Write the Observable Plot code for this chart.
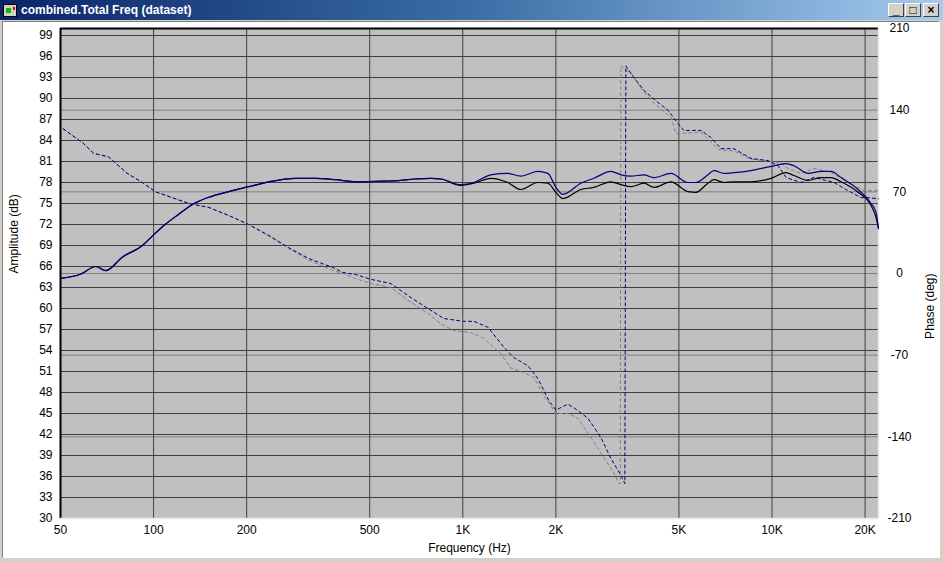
<!DOCTYPE html>
<html>
<head>
<meta charset="utf-8">
<script src="https://cdn.jsdelivr.net/npm/d3@7"></script>
<script src="https://cdn.jsdelivr.net/npm/@observablehq/plot@0.6"></script>
<style>
  body { margin: 0; background: #d4d0c8; }
  #win { position: relative; width: 943px; height: 562px; background: #d4d0c8; overflow: hidden; font-family: "Liberation Sans", Arial, sans-serif; }
  #title { position: absolute; left: 0; top: 0; width: 943px; height: 20px; background: linear-gradient(to right, #0a246a, #3a6ea5 50%, #a6caf0); }
  #title .txt { position: absolute; left: 21px; top: 3px; color: #fff; font-weight: bold; font-size: 12px; font-family: "Liberation Sans", Arial, sans-serif; white-space: nowrap; }
  #icon { position: absolute; left: 3px; top: 4px; width: 12px; height: 11px; background: #d4d0c8; border: 1px solid #000; }
  #icon .g { position: absolute; left: 2px; top: 3px; width: 5px; height: 5px; background: #00c000; }
  #icon .r { position: absolute; left: 9px; top: 2px; width: 2px; height: 3px; background: #e00000; }
  .btn { position: absolute; top: 3px; width: 14px; height: 12px; background: #d4d0c8; border-top: 1px solid #fff; border-left: 1px solid #fff; border-right: 1px solid #404040; border-bottom: 1px solid #404040; font: bold 12px "Liberation Sans", Arial, sans-serif; color: #000; text-align: center; line-height: 12px; }
  #client { position: absolute; left: 2px; top: 21px; width: 936px; height: 535px; background: #fff; border-top: 1px solid #808080; border-left: 1px solid #808080; border-right: 1px solid #fff; border-bottom: 1px solid #fff; }
  #chart { position: absolute; left: 0; top: 20px; }
</style>
</head>
<body>
<div id="win">
  <div id="title">
    <div id="icon"><div class="g"></div><div class="r"></div></div>
    <div class="txt">combined.Total Freq (dataset)</div>
    <div class="btn" style="left:888px">_</div>
    <div class="btn" style="left:905px">&#9633;</div>
    <div class="btn" style="left:923px">&#215;</div>
  </div>
  <div id="client"></div>
  <div id="chart"></div>
</div>
<script>
// ---- Data ----
const freqTicks = [50, 100, 200, 500, 1000, 2000, 5000, 10000, 20000];
const freqGrid = [100, 200, 500, 1000, 2000, 5000, 10000, 20000];
const dbTicks = [30, 33, 36, 39, 42, 45, 48, 51, 54, 57, 60, 63, 66, 69, 72, 75, 78, 81, 84, 87, 90, 93, 96, 99];
const phaseTicks = [-210, -140, -70, 0, 70, 140, 210];

// Amplitude (dB)
const ampFreq = [50, 58, 65, 70, 79, 92, 101, 109, 120, 134, 151, 175, 203, 236, 288, 334, 388, 450, 560, 630, 700, 790, 850, 985, 1086, 1232, 1398, 1540, 1748, 1884, 2000, 2107, 2409, 2654, 3012, 3245, 3496, 3852, 4151, 4711, 5346, 5675, 6206, 6489, 6991, 7533, 8550, 9924, 11096, 11777, 13079, 14408, 15523, 16726, 18982, 20912, 21703, 22100];
const ampBlue = [64.3, 64.9, 66.0, 65.4, 67.3, 69.0, 70.7, 72.0, 73.4, 74.9, 75.9, 76.7, 77.4, 78.1, 78.6, 78.6, 78.4, 78.1, 78.2, 78.3, 78.5, 78.6, 78.5, 77.7, 78.0, 79.1, 79.3, 78.9, 79.6, 79.3, 77.3, 76.3, 77.9, 78.6, 79.6, 79.1, 78.9, 79.1, 78.7, 79.3, 78.0, 78.0, 79.1, 79.7, 79.3, 79.4, 79.7, 80.3, 80.7, 80.4, 79.3, 79.6, 79.6, 78.7, 77.0, 75.0, 73.7, 71.4];
const ampBlack = [64.3, 64.9, 66.0, 65.4, 67.3, 69.0, 70.7, 72.0, 73.4, 74.9, 75.9, 76.7, 77.4, 78.1, 78.6, 78.6, 78.4, 78.1, 78.2, 78.3, 78.5, 78.6, 78.5, 77.6, 77.9, 78.6, 78.0, 77.0, 78.0, 77.9, 76.6, 75.7, 77.0, 77.3, 78.1, 77.7, 77.4, 77.9, 77.3, 78.1, 76.7, 76.6, 77.9, 78.4, 78.0, 78.1, 78.1, 78.6, 79.4, 79.0, 78.3, 78.7, 78.7, 78.1, 76.6, 74.7, 73.0, 71.4];

// Phase (deg)
const phaseBlueFreq = [51, 59, 64, 71.5, 82, 92, 101.5, 115, 130, 151, 175, 203, 236, 273, 317, 380, 409, 450, 504, 585, 679, 771, 868, 1007, 1086, 1204, 1357, 1462, 1623, 1748, 1898, 2000, 2187, 2286, 2538, 2796, 3012, 3245, 3343, 3368, 3575, 3852, 4213, 4606, 4963, 5188, 5891, 6346, 6838, 7533, 8550, 9705, 10456, 11096, 12408, 13675, 15876, 17103, 19407, 20456, 22100];
const phaseBlue = [124, 112, 103, 100, 86, 78, 70, 65, 60, 56.6, 49.7, 42, 32.6, 22.3, 12.9, 5.1, 0.9, -0.9, -5, -8.6, -20.6, -30, -38.6, -41, -41, -46, -63, -72, -79, -90, -109, -117, -112, -115, -124, -140.5, -158.5, -173, -180, 178, 168, 157, 148, 140, 128.6, 122.6, 122.6, 116.6, 107, 107, 98.6, 96.8, 92.6, 82.3, 78, 82.3, 78, 72.9, 65, 65, 64];
const phaseGrayFreq = [51, 59, 64, 71.5, 82, 92, 101.5, 115, 130, 151, 175, 203, 236, 273, 317, 380, 409, 450, 504, 585, 664, 771, 849, 935, 1061, 1169, 1327, 1430, 1575, 1697, 1829, 2000, 2187, 2356, 2595, 2859, 3081, 3197, 3230, 3245, 3548, 3765, 4151, 4711, 4890, 5891, 6737, 7533, 8550, 10692, 11264, 12408, 13675, 15523, 17618, 19846, 22100];
const phaseGray = [124, 112, 103, 100, 86, 78, 70, 65, 60, 56.6, 49.7, 42, 32, 21.5, 11.5, 2.6, 0, -4.3, -8.6, -12, -23, -34, -43, -49, -50.6, -55.7, -68.6, -81, -85, -89, -104.6, -120, -120, -124, -140.5, -157.7, -171, -180, -180, 178, 170, 159, 146, 134, 120, 121, 106, 105, 98, 95, 90, 85.7, 90, 86.6, 78, 71, 71];

// ---- Build ----
const X0 = 50, X1 = 22100, Y0 = 30, Y1 = 100;
const toDb = p => Y0 + (p + 210) * (Y1 - Y0) / 420;
const toPhase = d => Math.round((d - Y0) * 420 / (Y1 - Y0) - 210);

const amp = (vals) => ampFreq.map((f, i) => ({f, v: vals[i]}));
const ph = (fs, vals) => fs.map((f, i) => ({f, v: toDb(vals[i])}));

const fmtF = d => d >= 1000 ? (d / 1000) + "K" : String(d);

const chart = Plot.plot({
  width: 943,
  height: 542,
  marginLeft: 60,
  marginRight: 65,
  marginTop: 8,
  marginBottom: 44,
  style: {fontSize: "12px", fontFamily: "'Liberation Sans', Arial, sans-serif", color: "#000", background: "transparent", overflow: "visible"},
  x: {type: "log", domain: [X0, X1], range: [60, 878], axis: null},
  y: {domain: [Y0, Y1], axis: null},
  marks: [
    Plot.frame({fill: "#c0c0c0", stroke: "none"}),
    Plot.ruleY(phaseTicks.map(toDb), {y: d => d, stroke: "#808080"}),
    Plot.ruleY(dbTicks, {y: d => d, stroke: "#404040"}),
    Plot.ruleX(freqGrid, {x: d => d, stroke: "#404040"}),
    Plot.ruleX([X0], {stroke: "#000", strokeWidth: 2}),
    Plot.ruleY([Y1], {stroke: "#000", strokeWidth: 2}),
    Plot.ruleY([Y0], {stroke: "#e8e8e8", strokeWidth: 1.5}),
    Plot.ruleX([X1], {stroke: "#e8e8e8", strokeWidth: 1.5}),
    Plot.line(ph(phaseGrayFreq, phaseGray), {x: "f", y: "v", stroke: "#808080", strokeWidth: 1, strokeDasharray: "3,3"}),
    Plot.line(ph(phaseBlueFreq, phaseBlue), {x: "f", y: "v", stroke: "#000080", strokeWidth: 1, strokeDasharray: "3,3"}),
    Plot.line(amp(ampBlack), {x: "f", y: "v", stroke: "#000000", strokeWidth: 1.2, curve: "monotone-x"}),
    Plot.line(amp(ampBlue), {x: "f", y: "v", stroke: "#000080", strokeWidth: 1.2, curve: "monotone-x"}),
    Plot.axisY(dbTicks, {anchor: "left", tickSize: 0, tickPadding: 8, label: null, fill: "#000"}),
    Plot.axisY(phaseTicks.map(toDb), {anchor: "right", tickSize: 0, tickPadding: 21, textAnchor: "middle", tickFormat: toPhase, label: null, fill: "#000"}),
    Plot.text(freqTicks, {x: d => d, frameAnchor: "bottom", dy: 15, text: fmtF, fill: "#000"}),
    Plot.text(["Amplitude (dB)"], {frameAnchor: "left", rotate: -90, dx: -46, fill: "#000"}),
    Plot.text(["Phase (deg)"], {frameAnchor: "right", rotate: -90, dx: 52, fill: "#000"}),
    Plot.text(["Frequency (Hz)"], {frameAnchor: "bottom", dy: 33, fill: "#000"})
  ]
});
document.getElementById("chart").appendChild(chart);
</script>
</body>
</html>
